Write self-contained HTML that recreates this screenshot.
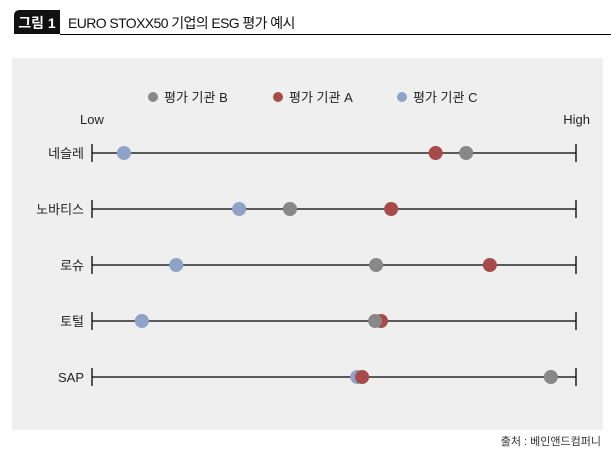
<!DOCTYPE html>
<html><head><meta charset="utf-8"><style>
body{margin:0;width:611px;height:456px;background:#fff;font-family:"Liberation Sans","Noto Sans CJK KR",sans-serif;overflow:hidden}
</style></head><body>
<svg width="611" height="456" xmlns="http://www.w3.org/2000/svg" font-family="Liberation Sans, Noto Sans CJK KR, sans-serif">
<g>
<path d="M20 10 H60 V34 H14 V16 Q14 10 20 10 Z" fill="#111"/>
<text x="37" y="28" font-size="14" font-weight="bold" fill="#fff" text-anchor="middle">그림 1</text>
<text x="68" y="28" font-size="14" fill="#111" letter-spacing="-0.6">EURO STOXX50 기업의 ESG 평가 예시</text>
<line x1="60" y1="34.5" x2="611" y2="34.5" stroke="#000" stroke-width="1"/>
</g>
<rect x="12" y="58" width="591" height="372" fill="#efefef"/>
<g>
<circle cx="153" cy="97" r="5" fill="#888"/><text x="164" y="102" font-size="13" fill="#222">평가 기관 B</text>
<circle cx="278" cy="97" r="5" fill="#a84a4a"/><text x="289" y="102" font-size="13" fill="#222">평가 기관 A</text>
<circle cx="402" cy="97" r="5" fill="#8fa3c8"/><text x="413" y="102" font-size="13" fill="#222">평가 기관 C</text>
</g>
<text x="80" y="124" font-size="13" fill="#222">Low</text>
<text x="590" y="124" font-size="13" fill="#222" text-anchor="end">High</text>
<g id="plot"></g>
<text x="601" y="445" font-size="11" fill="#333" text-anchor="end">출처 : 베인앤드컴퍼니</text>
</svg>
<script>
const companies = ["네슬레","노바티스","로슈","토털","SAP"];
const seriesA = [71, 61.8, 82.2, 59.7, 55.8];
const seriesB = [77.3, 40.9, 58.7, 58.5, 94.8];
const seriesC = [6.6, 30.4, 17.4, 10.3, 54.8];
const NS="http://www.w3.org/2000/svg";
const g=document.getElementById('plot');
const x0=92,x1=576,y0=153,dy=56;
const xs=v=>x0+(x1-x0)*v/100;
const ys=i=>y0+i*dy;
function mk(t,a){const e=document.createElementNS(NS,t);for(const k in a)e.setAttribute(k,a[k]);g.appendChild(e);return e;}
companies.forEach((c,i)=>{
const y=ys(i);
const l=mk('line',{x1:x0,y1:y,x2:x1,y2:y,stroke:'#000','stroke-width':1.3});


[x0,x1].forEach(x=>{const t=mk('line',{x1:x,y1:y-9,x2:x,y2:y+9,stroke:'#000','stroke-width':1.3});

});
const tx=mk('text',{x:84,y:y+5,'font-size':13,fill:'#222','text-anchor':'end'});tx.textContent=c;


const s=[[seriesC,'#8fa3c8','c'],[seriesA,'#a84a4a','a'],[seriesB,'#888','b']];
s.forEach(([arr,col,n])=>{const d=mk('circle',{cx:xs(arr[i]),cy:y,r:7,fill:col});

});
});
</script>
</body></html>
